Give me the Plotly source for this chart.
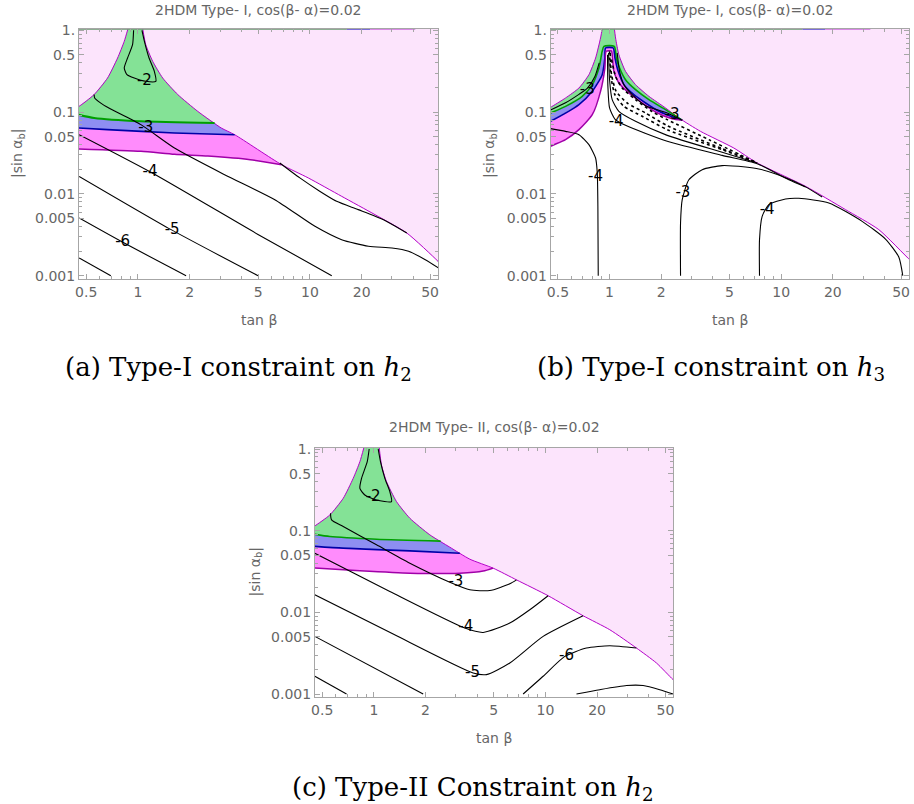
import plotly.graph_objects as go

# ---------------- Panel (a): Type-I constraint on h2 ----------------
a_outerL_t = [0.44, 0.455, 0.556, 0.665, 0.761, 0.832, 0.875]
a_outerL_s = [0.115, 0.118, 0.164, 0.261, 0.459, 0.734, 1.05]
a_outerR_t = [1.065, 1.11, 1.218, 1.393, 1.704, 2.23, 3.05, 3.65, 6.84, 9.78, 15.3, 23.9, 36.6, 55.6, 60]
a_outerR_s = [1.05, 0.668, 0.418, 0.261, 0.164, 0.102, 0.064, 0.053, 0.0228, 0.0157, 0.00935, 0.00558, 0.00333, 0.0015, 0.00125]
a_green_t = [0.44, 0.556, 1.04, 2.79]
a_green_s = [0.094, 0.0848, 0.0772, 0.0736]
a_blue_t = [0.44, 0.665, 1.63, 3.65]
a_blue_s = [0.0643, 0.0611, 0.0556, 0.053]
a_low_t = [0.44, 1.04, 1.63, 2.55, 4.5, 6.84]
a_low_s = [0.0356, 0.0332, 0.0305, 0.029, 0.0262, 0.0228]
# coloured segments along the top edge (|sin α_b| = 1): green, blue, magenta
a_top_t = [0.44, 16.4, 22.4, 41.0]

a_contours = {
    "c2": ([0.943, 0.93, 0.87, 0.832, 0.863, 0.952, 1.11, 1.27, 1.245, 1.16, 1.09, 1.055],
           [1.0, 0.668, 0.459, 0.346, 0.287, 0.261, 0.238, 0.238, 0.315, 0.459, 0.734, 1.0]),
    "c3": ([0.556, 0.56, 0.608, 0.665, 1.04, 1.63, 3.19, 6.25, 10.7, 15.3, 21.9, 30.0, 37.5, 46.9, 56.1],
           [0.164, 0.149, 0.129, 0.1145, 0.0703, 0.0364, 0.0172, 0.00851, 0.00402, 0.00276, 0.00229, 0.00218, 0.00199, 0.00157, 0.00124]),
    "c4": ([0.455, 1.19, 4.99, 13.4], [0.053, 0.0184, 0.0032, 0.001]),
    "c5": ([0.455, 1.559, 4.99], [0.0164, 0.00366, 0.001]),
    "c6": ([0.455, 0.832, 1.905], [0.00508, 0.00251, 0.001]),
    "c7": ([0.455, 0.695], [0.00165, 0.001]),
    "hug": ([6.68, 8.74, 11.4, 14.3, 19.1, 26.8, 36.6],
            [0.0239, 0.0157, 0.0108, 0.00812, 0.00643, 0.00484, 0.00333]),
}
a_label_text = ["-2", "-3", "-4", "-5", "-6"]
a_label_t = [1.09, 1.11, 1.175, 1.58, 0.814]
a_label_s = [0.238, 0.0628, 0.0184, 0.00359, 0.00256]

# ---------------- Panel (b): Type-I constraint on h3 ----------------
b_outerL_t = [0.44, 0.453, 0.554, 0.663, 0.758, 0.829, 0.886, 0.915]
b_outerL_s = [0.111, 0.1145, 0.149, 0.197, 0.287, 0.459, 0.806, 1.17]
b_outerR_t = [1.06, 1.084, 1.133, 1.239, 1.417, 1.695, 2.12, 2.535, 3.39, 5.30, 7.248, 13.86, 23.7, 37.07, 56.6, 60]
b_outerR_s = [1.17, 0.806, 0.504, 0.315, 0.217, 0.156, 0.1124, 0.0848, 0.0582, 0.0364, 0.0239, 0.0124, 0.00643, 0.00366, 0.00154, 0.0014]
b_green_t = [0.44, 0.453, 0.554, 0.693, 0.793, 0.867, 0.906, 0.927, 1.065, 1.095, 1.144, 1.239, 1.417, 1.695, 2.12, 2.65]
b_green_s = [0.095, 0.0976, 0.1177, 0.156, 0.217, 0.346, 0.554, 0.637, 0.637, 0.459, 0.346, 0.249, 0.188, 0.142, 0.1072, 0.080]
b_blue_t = [0.44, 0.453, 0.663, 0.793, 0.906, 0.939, 0.948, 1.05, 1.075, 1.123, 1.212, 1.386, 1.621, 1.938, 2.424, 2.65]
b_blue_s = [0.075, 0.0772, 0.1234, 0.1796, 0.287, 0.459, 0.608, 0.608, 0.459, 0.315, 0.217, 0.1634, 0.1293, 0.1023, 0.0848, 0.080]
b_mag_t = [0.44, 0.453, 0.554, 0.663, 0.793, 0.886, 0.939, 0.956, 1.025, 1.04, 1.06, 1.133, 1.296, 1.55, 1.853, 2.317, 2.65]
b_mag_s = [0.0365, 0.0382, 0.0461, 0.0611, 0.0931, 0.1796, 0.346, 0.554, 0.56, 0.459, 0.315, 0.227, 0.1714, 0.1293, 0.1004, 0.0832, 0.080]
b_top_t = [0.44, 13.3, 18.1, 33.1]

b_contours = {
    "c3a": ([0.453, 0.554, 0.663, 0.741, 0.82, 0.87], [0.106, 0.13, 0.165, 0.195, 0.27, 0.4]),
    "c4a": ([0.453, 0.554, 0.663, 0.758, 0.829, 0.848, 0.855, 0.859],
            [0.0628, 0.0582, 0.053, 0.040, 0.0275, 0.018, 0.00705, 0.001]),
    "B1": ([0.973, 0.978, 1.0, 1.074, 1.239, 2.168, 4.532, 7.248, 11.08, 13.86],
           [0.504, 0.207, 0.1124, 0.0824, 0.069, 0.044, 0.0296, 0.0234, 0.0149, 0.0122]),
    "B2": ([0.987, 1.0, 1.036, 1.133, 1.417, 2.168, 4.532, 7.248],
           [0.528, 0.249, 0.142, 0.1023, 0.0772, 0.052, 0.0323, 0.0239]),
    "R3": ([1.108, 1.144, 1.212, 1.355, 1.621, 2.168, 2.651],
           [0.528, 0.315, 0.217, 0.1634, 0.12, 0.0976, 0.0794]),
    "c3b": ([2.592, 2.592, 2.651, 2.898, 3.466, 4.532, 6.197, 7.41, 10.13, 13.86, 17.33],
            [0.001, 0.00441, 0.00851, 0.0149, 0.0198, 0.0222, 0.0213, 0.0202, 0.0164, 0.0122, 0.00918]),
    "c4b": ([7.479, 7.479, 7.75, 8.477, 10.6, 12.67, 18.96, 29.65, 40.54, 48.47, 51.14],
            [0.001, 0.00276, 0.00532, 0.0074, 0.00867, 0.00884, 0.00775, 0.00462, 0.00281, 0.00169, 0.001]),
}
b_dense = {
    "B3": ([1.0, 1.018, 1.074, 1.212, 1.55, 2.168, 4.532, 7.248],
           [0.554, 0.274, 0.1634, 0.1177, 0.0889, 0.0611, 0.0348, 0.0239]),
    "B4": ([1.009, 1.027, 1.093, 1.267, 1.621, 2.168, 4.532, 7.248],
           [0.528, 0.287, 0.1796, 0.1293, 0.0976, 0.0683, 0.0358, 0.0239]),
    "B5": ([1.027, 1.084, 1.185, 1.417, 1.772, 2.168, 3.79, 7.248],
           [0.438, 0.274, 0.197, 0.142, 0.1013, 0.0809, 0.0461, 0.0239]),
}
b_label_text = ["-3", "-3", "-4", "-4", "-3", "-4"]
b_label_t = [0.741, 2.317, 1.093, 0.829, 2.675, 8.287]
b_label_s = [0.1847, 0.0914, 0.0758, 0.0161, 0.01008, 0.0063]

# ---------------- Panel (c): Type-II constraint on h2 ----------------
c_outerL_t = [0.44, 0.453, 0.554, 0.663, 0.758, 0.829, 0.876]
c_outerL_s = [0.111, 0.1145, 0.156, 0.2493, 0.438, 0.70, 1.05]
c_outerR_t = [1.074, 1.108, 1.185, 1.355, 1.621, 2.12, 2.772, 3.625, 4.955, 6.779, 10.36, 16.57, 23.7, 33.89, 44.33, 55.4, 60]
c_outerR_s = [1.05, 0.637, 0.399, 0.227, 0.142, 0.0889, 0.0628, 0.0448, 0.0348, 0.025, 0.016, 0.00909, 0.00613, 0.00366, 0.0024, 0.0015, 0.0013]
c_green_t = [0.44, 0.554, 1.036, 2.45]
c_green_s = [0.091, 0.0848, 0.0787, 0.0745]
c_blue_t = [0.44, 0.663, 1.621, 3.17]
c_blue_s = [0.0645, 0.0611, 0.0566, 0.053]
c_low_t = [0.44, 0.829, 1.621, 3.17, 4.335, 4.955]
c_low_s = [0.035, 0.0323, 0.0302, 0.0302, 0.032, 0.0348]

c_contours = {
    "c2": ([0.939, 0.915, 0.848, 0.829, 0.886, 1.036, 1.267, 1.239, 1.159, 1.093, 1.06],
           [1.0, 0.70, 0.438, 0.3305, 0.274, 0.2378, 0.227, 0.301, 0.438, 0.70, 1.0]),
    "c3": ([0.559, 0.567, 0.663, 1.036, 1.621, 2.772, 3.625, 4.74, 6.197, 6.779],
           [0.1634, 0.1355, 0.1123, 0.0671, 0.04, 0.0234, 0.0189, 0.0185, 0.0224, 0.025]),
    "c4": ([0.453, 1.239, 3.39, 4.335, 6.197, 8.103, 10.36],
           [0.053, 0.018, 0.00642, 0.00568, 0.00739, 0.01076, 0.016]),
    "c5": ([0.453, 1.296, 3.79, 4.532, 6.197, 9.692, 16.57],
           [0.0164, 0.00542, 0.00181, 0.00173, 0.0024, 0.00508, 0.00909]),
    "c6a": ([0.453, 1.938], [0.00508, 0.001]),
    "c7a": ([0.453, 0.693], [0.00165, 0.001]),
    "c6": ([7.413, 9.692, 12.96, 17.33, 23.7, 33.89], [0.001, 0.00165, 0.00289, 0.00366, 0.0039, 0.00366]),
    "c7": ([15.16, 20.73, 29.65, 37.07, 46.35, 55.4], [0.001, 0.00113, 0.00127, 0.00127, 0.00113, 0.001]),
}
c_label_text = ["-2", "-3", "-4", "-5", "-6"]
c_label_t = [0.991, 3.005, 3.435, 3.756, 13.26]
c_label_s = [0.2566, 0.0234, 0.0066, 0.00181, 0.00289]

# ---------------- Axes / text ----------------
x_tickvals = [0.5, 1, 2, 5, 10, 20, 50]
x_ticktext = ["0.5", "1", "2", "5", "10", "20", "50"]
x_minor = [0.6, 0.7, 0.8, 0.9, 3, 4, 6, 7, 8, 9, 30, 40]
y_tickvals = [0.001, 0.005, 0.01, 0.05, 0.1, 0.5, 1]
y_ticktext = ["0.001", "0.005", "0.01", "0.05", "0.1", "0.5", "1."]
y_minor = [0.002, 0.003, 0.004, 0.006, 0.007, 0.008, 0.009,
           0.02, 0.03, 0.04, 0.06, 0.07, 0.08, 0.09,
           0.2, 0.3, 0.4, 0.6, 0.7, 0.8, 0.9]
panel_titles = ["2HDM Type- I, cos(β- α)=0.02", "2HDM Type- I, cos(β- α)=0.02", "2HDM Type- II, cos(β- α)=0.02"]
captions = ["(a) Type-I constraint on <i>h</i><sub>2</sub>",
            "(b) Type-I constraint on <i>h</i><sub>3</sub>",
            "(c) Type-II Constraint on <i>h</i><sub>2</sub>"]

PINK = "#FCE4FC"
GREEN_F = "#84E296"
BLUE_F = "#8E8EF2"
MAG_F = "#FF8CFC"
OUT_L = "#B400C8"
GREEN_L = "#00A000"
BLUE_L = "#0000A8"
MAG_L = "#A000A8"
W, H = 914, 804
TOP_S = 1.033

fig = go.Figure()


def rev(a):
    return list(reversed(a))


def fill(t, s, color, ax):
    fig.add_trace(go.Scatter(x=t, y=s, mode="lines", fill="toself", fillcolor=color,
                             line=dict(width=0), hoverinfo="skip", showlegend=False,
                             xaxis=ax[0], yaxis=ax[1]))


def line(t, s, color, width, ax, dash="solid", opacity=1.0):
    fig.add_trace(go.Scatter(x=t, y=s, mode="lines", opacity=opacity,
                             line=dict(color=color, width=width, dash=dash, shape="spline", smoothing=0.6),
                             hoverinfo="skip", showlegend=False, xaxis=ax[0], yaxis=ax[1]))


def labels(txt, t, s, ax):
    fig.add_trace(go.Scatter(x=t, y=s, mode="text", text=txt,
                             textfont=dict(family="DejaVu Sans", size=15, color="black"),
                             hoverinfo="skip", showlegend=False, xaxis=ax[0], yaxis=ax[1]))


def top_edge(tt, ax):
    cols = ["#6f9f76", "#5a4fd0", "#d070e0"]
    for k in range(3):
        line([tt[k], tt[k + 1]], [TOP_S, TOP_S], cols[k], 1.6, ax, opacity=0.8)


AXA, AXB, AXC = ("x", "y"), ("x2", "y2"), ("x3", "y3")

# ---- panel a ----
fill(a_outerL_t + a_outerR_t + [60, 0.44], a_outerL_s + a_outerR_s + [1.3, 1.3], PINK, AXA)
fill(a_outerL_t + a_outerR_t[:6] + rev(a_green_t), a_outerL_s + a_outerR_s[:6] + rev(a_green_s), GREEN_F, AXA)
fill(a_green_t + [a_outerR_t[6]] + rev(a_blue_t), a_green_s + [a_outerR_s[6]] + rev(a_blue_s), BLUE_F, AXA)
fill(a_blue_t + [a_outerR_t[8]] + rev(a_low_t), a_blue_s + [a_outerR_s[8]] + rev(a_low_s), MAG_F, AXA)
line(a_outerL_t, a_outerL_s, OUT_L, 1, AXA)
line(a_outerR_t, a_outerR_s, OUT_L, 1, AXA)
line(a_green_t, a_green_s, GREEN_L, 2, AXA)
line(a_blue_t, a_blue_s, BLUE_L, 1.6, AXA)
line(a_low_t, a_low_s, MAG_L, 1.5, AXA)
top_edge(a_top_t, AXA)
for t, s in a_contours.values():
    line(t, s, "black", 1.1, AXA)
labels(a_label_text, a_label_t, a_label_s, AXA)

# ---- panel b ----
fill(b_outerL_t + b_outerR_t + [60, 0.44], b_outerL_s + b_outerR_s + [1.3, 1.3], PINK, AXB)
fill(b_outerL_t + b_outerR_t[:8] + rev(b_green_t), b_outerL_s + b_outerR_s[:8] + rev(b_green_s), GREEN_F, AXB)
fill(b_green_t + rev(b_blue_t), b_green_s + rev(b_blue_s), BLUE_F, AXB)
fill(b_blue_t + rev(b_mag_t), b_blue_s + rev(b_mag_s), MAG_F, AXB)
line(b_outerL_t, b_outerL_s, OUT_L, 1, AXB)
line(b_outerR_t, b_outerR_s, OUT_L, 1, AXB)
line(b_green_t, b_green_s, GREEN_L, 1.6, AXB)
line(b_blue_t, b_blue_s, BLUE_L, 1.6, AXB)
line(b_mag_t, b_mag_s, MAG_L, 1.5, AXB)
top_edge(b_top_t, AXB)
for t, s in b_contours.values():
    line(t, s, "black", 1.1, AXB)
for t, s in b_dense.values():
    line(t, s, "black", 1.6, AXB, dash="dot")
labels(b_label_text, b_label_t, b_label_s, AXB)

# ---- panel c ----
fill(c_outerL_t + c_outerR_t + [60, 0.44], c_outerL_s + c_outerR_s + [1.3, 1.3], PINK, AXC)
fill(c_outerL_t + c_outerR_t[:6] + rev(c_green_t), c_outerL_s + c_outerR_s[:6] + rev(c_green_s), GREEN_F, AXC)
fill(c_green_t + [c_outerR_t[6]] + rev(c_blue_t), c_green_s + [c_outerR_s[6]] + rev(c_blue_s), BLUE_F, AXC)
fill(c_blue_t + [c_outerR_t[7]] + rev(c_low_t), c_blue_s + [c_outerR_s[7]] + rev(c_low_s), MAG_F, AXC)
line(c_outerL_t, c_outerL_s, OUT_L, 1, AXC)
line(c_outerR_t, c_outerR_s, OUT_L, 1, AXC)
line(c_green_t, c_green_s, GREEN_L, 1.6, AXC)
line(c_blue_t, c_blue_s, BLUE_L, 1.6, AXC)
line(c_low_t, c_low_s, MAG_L, 1.5, AXC)
for t, s in c_contours.values():
    line(t, s, "black", 1.1, AXC)
labels(c_label_text, c_label_t, c_label_s, AXC)

# ---- layout ----
FRAME = "#a6a6a6"
TXT = "#666666"
TICKFONT = dict(family="DejaVu Sans", size=14, color=TXT)


def xax(dom, anchor):
    return dict(type="log", domain=dom, anchor=anchor, range=[-0.343, 1.745], automargin=False,
                tickvals=x_tickvals, ticktext=x_ticktext, ticks="inside", ticklen=5,
                tickcolor=FRAME, showline=True, linecolor=FRAME, linewidth=1,
                mirror="allticks", showgrid=False, zeroline=False, tickfont=TICKFONT,
                minor=dict(tickvals=x_minor, ticks="inside", ticklen=3, tickcolor=FRAME, showgrid=False))


def yax(dom, anchor):
    return dict(type="log", domain=dom, anchor=anchor, range=[-3.04, 0.0163], automargin=False,
                tickvals=y_tickvals, ticktext=y_ticktext, ticks="inside", ticklen=5,
                tickcolor=FRAME, showline=True, linecolor=FRAME, linewidth=1,
                mirror="allticks", showgrid=False, zeroline=False, tickfont=TICKFONT,
                minor=dict(tickvals=y_minor, ticks="inside", ticklen=3, tickcolor=FRAME, showgrid=False))


# plot frames in pixels: (left, right, top, bottom)
frames = [(79, 438, 29, 279), (550.7, 909, 29, 279), (315, 673.3, 447.7, 697.3)]
keys = [("xaxis", "yaxis", "y", "x"), ("xaxis2", "yaxis2", "y2", "x2"), ("xaxis3", "yaxis3", "y3", "x3")]
lay = {}
for (l, r, t, b), (xk, yk, ya, xa) in zip(frames, keys):
    lay[xk] = xax([l / W, r / W], ya)
    lay[yk] = yax([1 - b / H, 1 - t / H], xa)

annotations = []
title_pos = [(258, 10), (730, 10), (494, 427)]
ylab_x = [18, 490, 255]
cap_pos = [(238, 368), (711, 368), (473, 788)]
for i, ((l, r, t, b), (tx, ty)) in enumerate(zip(frames, title_pos)):
    annotations.append(dict(text=panel_titles[i], x=tx / W, y=1 - ty / H, xref="paper", yref="paper",
                            showarrow=False, xanchor="center", yanchor="middle",
                            font=dict(family="DejaVu Sans", size=14, color=TXT)))
    annotations.append(dict(text="tan β", x=(l + r) / 2 / W, y=1 - (b + 41) / H, xref="paper", yref="paper",
                            showarrow=False, xanchor="center", yanchor="middle",
                            font=dict(family="DejaVu Sans", size=14, color=TXT)))
    annotations.append(dict(text="|sin α<sub>b</sub>|", x=ylab_x[i] / W, y=1 - (t + b) / 2 / H,
                            xref="paper", yref="paper", showarrow=False, textangle=-90,
                            xanchor="center", yanchor="middle",
                            font=dict(family="DejaVu Sans", size=14, color=TXT)))
    cx, cy = cap_pos[i]
    annotations.append(dict(text=captions[i], x=cx / W, y=1 - cy / H, xref="paper", yref="paper",
                            showarrow=False, xanchor="center", yanchor="middle",
                            font=dict(family="DejaVu Serif", size=26, color="black")))

fig.update_layout(width=W, height=H, margin=dict(l=0, r=0, t=0, b=0, autoexpand=False),
                  paper_bgcolor="white", plot_bgcolor="white", hovermode=False,
                  showlegend=False, annotations=annotations, **lay)

fig.write_html("out.html", config={"displayModeBar": False, "staticPlot": True},
               post_script="document.body.style.margin='0';document.body.style.padding='0';"
                           "document.body.style.overflow='hidden';")
